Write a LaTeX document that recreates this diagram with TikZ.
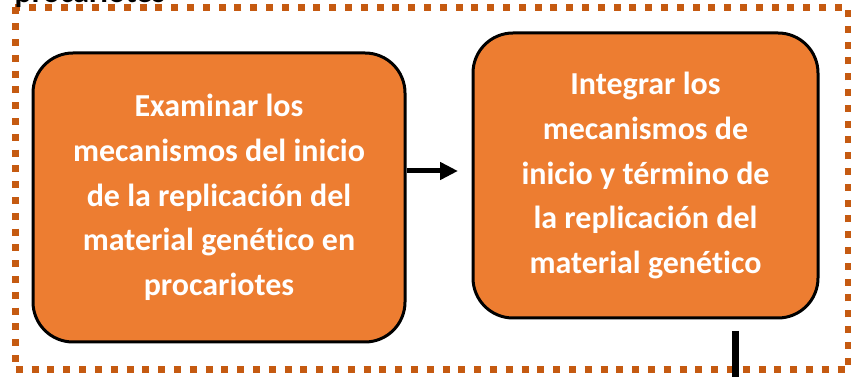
\documentclass[tikz,border=0pt]{standalone}
\usepackage{fontspec}
\setmainfont[Ligatures={NoCommon}]{Carlito}
\usetikzlibrary{arrows.meta}
\definecolor{kasten}{HTML}{ED7D31}
\definecolor{rahmen}{HTML}{C55A11}
\tikzstyle{Kasten}= [draw,line width=2.25pt,fill=kasten,rounded corners=30pt,text=white,align=center,
  font=\fontsize{24}{33.5}\selectfont\bfseries]

\begin{document}
\begin{tikzpicture}[x=0.75pt,y=-0.75pt]

		\useasboundingbox (0,0) rectangle (851,377);

		\draw[rahmen,line width=5.25pt,dash pattern=on 5.25pt off 6.6pt]
		(15,7.5) rectangle (848,370);
		\node [anchor=base west,font=\fontsize{24}{28}\selectfont\bfseries] (t) at (10,3) {procariotes};

		\node [Kasten,minimum width=279pt,minimum height=216.75pt] (0) at (219,197.5)
		{Examinar los\\mecanismos del inicio\\de la replicaci\'on del\\material gen\'etico en\\procariotes};
		\node [Kasten,minimum width=258.75pt,minimum height=213.75pt] (1) at (645.5,175.5)
		{Integrar los\\mecanismos de\\inicio y t\'ermino de\\la replicaci\'on del\\material gen\'etico};

		\coordinate (a) at (458,171);
		\coordinate (o) at (735.5,331);
		\coordinate (u) at (735.5,380);

		\draw[line width=3.75pt,-{Triangle[length=13.5pt,width=12.75pt]}]
		(0.east |- a) -- (a);
		\draw[line width=5.25pt]
		(o) -- (u);
		;

	\end{tikzpicture}
\end{document}
